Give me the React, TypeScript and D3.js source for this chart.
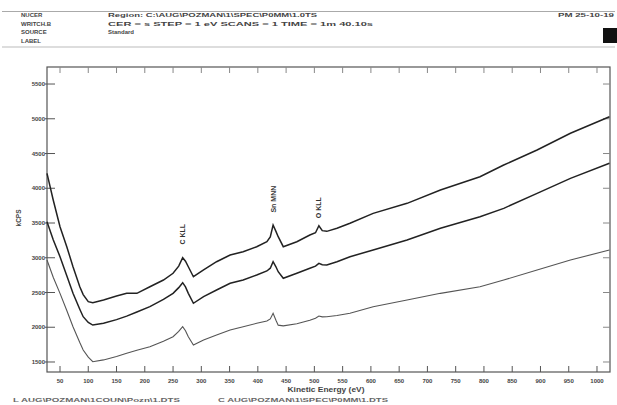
import React from "react";
import * as d3 from "d3";

const energies = [27, 38, 50, 62, 73, 85, 91, 100, 108, 127, 150, 168, 186, 209, 233, 250, 260, 267, 272, 277, 286, 304, 327, 351, 374, 398, 416, 422, 427, 432, 436, 445, 469, 492, 502, 508, 514, 522, 540, 563, 604, 664, 723, 793, 835, 894, 953, 1022];
const seriesTop = [4215, 3831, 3447, 3159, 2871, 2583, 2470, 2368, 2353, 2392, 2450, 2488, 2488, 2583, 2680, 2776, 2880, 3000, 2950, 2871, 2727, 2824, 2943, 3040, 3087, 3159, 3231, 3300, 3471, 3380, 3303, 3159, 3231, 3327, 3360, 3460, 3390, 3380, 3424, 3496, 3639, 3783, 3975, 4166, 4334, 4550, 4791, 5029];
const seriesMid = [3519, 3260, 3015, 2740, 2488, 2260, 2152, 2070, 2032, 2057, 2110, 2160, 2220, 2296, 2400, 2488, 2570, 2641, 2580, 2488, 2345, 2440, 2536, 2632, 2680, 2752, 2810, 2850, 2943, 2870, 2799, 2704, 2776, 2848, 2880, 2920, 2900, 2896, 2943, 3015, 3111, 3255, 3424, 3591, 3711, 3927, 4143, 4359];
const seriesBot = [2968, 2720, 2488, 2240, 2008, 1780, 1673, 1570, 1504, 1530, 1580, 1625, 1670, 1720, 1800, 1864, 1940, 2008, 1950, 1864, 1745, 1817, 1888, 1960, 2008, 2057, 2090, 2120, 2201, 2100, 2030, 2020, 2050, 2100, 2130, 2162, 2150, 2152, 2170, 2201, 2296, 2392, 2488, 2583, 2680, 2824, 2968, 3111];

const xTicks = [50, 100, 150, 200, 250, 300, 350, 400, 450, 500, 550, 600, 650, 700, 750, 800, 850, 900, 950, 1000];
const yTicks = [1500, 2000, 2500, 3000, 3500, 4000, 4500, 5000, 5500];
const peakLabels = ["C KLL", "Sn MNN", "O KLL"];
const peakEnergies = [267, 427, 508];
const peakLabelValues = [3190, 3650, 3570];

const headerLeft = ["NUCER", "WRITCH.B", "SOURCE", "LABEL"];
const headerMid = ["Region:   C:\\AUG\\POZMAN\\1\\SPEC\\P0MM\\1.0TS", "CER = s    STEP = 1 eV    SCANS = 1    TIME = 1m 40.10s", "  Standard"];
const legendItems = ["L  AUG\\POZMAN\\1COUN\\Pozn\\1.DTS", "C  AUG\\POZMAN\\1\\SPEC\\P0MM\\1.DTS"];

export default function App() {
  const L = 47, R = 610, T = 67, B = 372;
  const x = d3.scaleLinear().domain([27, 1023]).range([L, R]);
  const y = d3.scaleLinear().domain([1356, 5745]).range([B, T]);
  const line = (vals: number[]) =>
    d3.line<number>().x((_, i) => x(energies[i])).y((v) => y(v)).curve(d3.curveLinear)(vals) || "";
  const font = "'Liberation Sans', Arial, sans-serif";
  const tc = "#444";
  return (
    <svg width={617} height={405} style={{ position: "fixed", left: 0, top: 0, background: "#fff" }} fontFamily={font}>
      <rect x={0} y={0} width={617} height={405} fill="#fff" />
      {/* header */}
      <line x1={2} x2={615} y1={11.5} y2={11.5} stroke="#aaa" strokeWidth={1} />
      <line x1={2} x2={615} y1={47} y2={47} stroke="#bbb" strokeWidth={1} />
      {headerLeft.map((t, i) => (
        <text key={t} x={21} y={17 + i * 8.5} fontSize={6} fontWeight="bold" fill={tc}>{t}</text>
      ))}
      <text x={108} y={17} fontSize={6} fontWeight="bold" fill={tc} textLength={209} lengthAdjust="spacingAndGlyphs">{headerMid[0]}</text>
      <text x={108} y={25.5} fontSize={6} fontWeight="bold" fill={tc} textLength={265} lengthAdjust="spacingAndGlyphs">{headerMid[1]}</text>
      <text x={108} y={34} fontSize={6} fontWeight="bold" fill={tc}>{headerMid[2]}</text>
      <text x={558} y={17} fontSize={6} fontWeight="bold" fill={tc} textLength={56} lengthAdjust="spacingAndGlyphs">PM 25-10-19</text>
      <rect x={603} y={28} width={14} height={15} fill="#111" />

      {/* frame */}
      <rect x={L} y={T} width={R - L} height={B - T} fill="none" stroke="#555" strokeWidth={1.2} />
      {xTicks.map((t) => (
        <g key={"x" + t}>
          <line x1={x(t)} x2={x(t)} y1={B} y2={B - 6} stroke="#555" />
          <line x1={x(t)} x2={x(t)} y1={T} y2={T + 6} stroke="#888" />
          <text x={x(t)} y={383} fontSize={6} fontWeight="bold" textAnchor="middle" fill={tc}>{t}</text>
        </g>
      ))}
      {yTicks.map((t) => (
        <g key={"y" + t}>
          <line x1={L - 2} x2={L + 8} y1={y(t)} y2={y(t)} stroke="#555" />
          <line x1={R} x2={R - 7} y1={y(t)} y2={y(t)} stroke="#888" />
          <text x={L - 2} y={y(t) + 2} fontSize={6} fontWeight="bold" textAnchor="end" fill={tc}>{t}</text>
        </g>
      ))}
      <text transform={`translate(21,218) rotate(-90)`} fontSize={6.5} fontWeight="bold" textAnchor="middle" fill={tc}>kCPS</text>
      <text x={326} y={392} fontSize={6.5} fontWeight="bold" textAnchor="middle" fill={tc} textLength={77} lengthAdjust="spacingAndGlyphs">Kinetic Energy (eV)</text>
      <text x={13} y={402} fontSize={6} fontWeight="bold" fill="#666" textLength={167} lengthAdjust="spacingAndGlyphs">{legendItems[0]}</text>
      <text x={218} y={402} fontSize={6} fontWeight="bold" fill="#666" textLength={170} lengthAdjust="spacingAndGlyphs">{legendItems[1]}</text>

      {/* curves */}
      <path d={line(seriesBot)} fill="none" stroke="#555" strokeWidth={1.1} />
      <path d={line(seriesMid)} fill="none" stroke="#222" strokeWidth={1.5} />
      <path d={line(seriesTop)} fill="none" stroke="#222" strokeWidth={1.5} />

      {peakLabels.map((p, i) => (
        <text key={p} transform={`translate(${x(peakEnergies[i]) + 2.5},${y(peakLabelValues[i])}) rotate(-90)`} fontSize={7} fontWeight="bold" fill="#333">{p}</text>
      ))}
    </svg>
  );
}
